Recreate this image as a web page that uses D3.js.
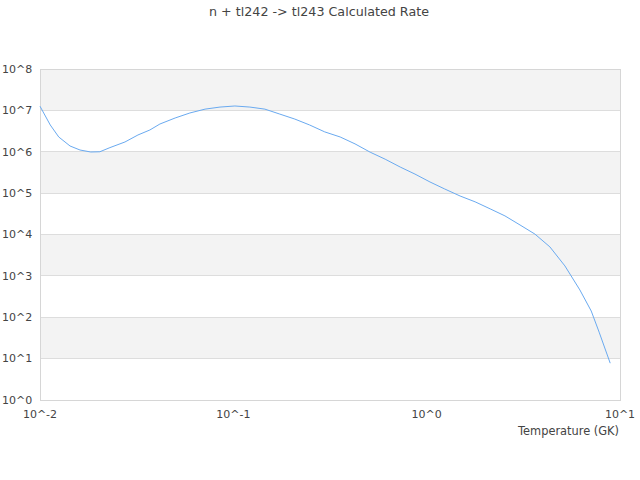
<!DOCTYPE html>
<html>
<head>
<meta charset="utf-8">
<script src="https://cdn.jsdelivr.net/npm/d3@7"></script>
<style>
  body { margin: 0; background: #fff; }
  text { font-family: "DejaVu Sans", sans-serif; fill: #444; }
</style>
</head>
<body>
<svg width="640" height="480"></svg>
<script>
// temperature (GK) and rate
const temps = [0.01, 0.0113, 0.0125, 0.0143, 0.0161, 0.0183, 0.0204, 0.023, 0.0275, 0.0321,
  0.037, 0.0417, 0.05, 0.0596, 0.0714, 0.0853, 0.1019, 0.1218, 0.1456, 0.174,
  0.208, 0.248, 0.297, 0.357, 0.426, 0.51, 0.61, 0.73, 0.87, 1.04,
  1.24, 1.49, 1.78, 2.13, 2.54, 3.04, 3.63, 4.34, 5.19, 6.2,
  7.1, 7.8, 8.9];
const logRates = [7.1, 6.647, 6.357, 6.139, 6.042, 5.994, 6.0, 6.1, 6.236, 6.405,
  6.526, 6.67, 6.816, 6.937, 7.03, 7.08, 7.106, 7.08, 7.03, 6.91,
  6.79, 6.647, 6.48, 6.357, 6.19, 5.99, 5.82, 5.63, 5.46, 5.27,
  5.1, 4.93, 4.79, 4.62, 4.45, 4.23, 4.01, 3.70, 3.24, 2.66,
  2.15, 1.64, 0.89];
const rates = logRates.map(v => Math.pow(10, v));

const xTicks = [0.01, 0.1, 1, 10];
const xTickLabels = ["10^-2", "10^-1", "10^0", "10^1"];
const yTicks = [1, 10, 100, 1e3, 1e4, 1e5, 1e6, 1e7, 1e8];
const yTickLabels = ["10^0", "10^1", "10^2", "10^3", "10^4", "10^5", "10^6", "10^7", "10^8"];

let svg = d3.select("svg");
const plotL = 40, plotR = 620, plotT = 69, plotB = 400;

const x = d3.scaleLog().domain([0.01, 10]).range([plotL, plotR]);
const y = d3.scaleLog().domain([1, 1e8]).range([plotB, plotT]);

// alternating bands
const bands = yTicks.slice(0, -1).map((v, i) => [v, yTicks[i + 1]]);
svg.append("g").selectAll("rect")
  .data(bands)
  .join("rect")
  .attr("x", plotL)
  .attr("width", plotR - plotL)
  .attr("y", d => y(d[1]))
  .attr("height", d => y(d[0]) - y(d[1]))
  .attr("fill", (d, i) => i % 2 === 1 ? "#f3f3f3" : "#fff");

// grid lines
svg.append("g").selectAll("line")
  .data(yTicks)
  .join("line")
  .attr("x1", plotL).attr("x2", plotR)
  .attr("y1", d => y(d)).attr("y2", d => y(d))
  .attr("stroke", "#dddddd")
  .attr("shape-rendering", "crispEdges");

// frame
svg.append("rect")
  .attr("x", plotL).attr("y", plotT)
  .attr("width", plotR - plotL).attr("height", plotB - plotT)
  .attr("fill", "none")
  .attr("stroke", "#d6d6d6")
  .attr("shape-rendering", "crispEdges");

// y tick labels
svg.append("g").selectAll("text")
  .data(yTicks)
  .join("text")
  .attr("x", 2)
  .attr("y", d => y(d))
  .attr("dy", "0.35em")
  .attr("font-size", 11)
  .text((d, i) => yTickLabels[i]);

// x tick labels
svg.append("g").selectAll("text")
  .data(xTicks)
  .join("text")
  .attr("x", d => x(d))
  .attr("y", 418)
  .attr("text-anchor", "middle")
  .attr("font-size", 11)
  .text((d, i) => xTickLabels[i]);

// curve
const line = d3.line()
  .x((d, i) => x(temps[i]))
  .y(d => y(d));
svg.append("path")
  .datum(rates)
  .attr("d", line)
  .attr("fill", "none")
  .attr("stroke", "#6aaaf0")
  .attr("stroke-width", 1);

// title & axis label
svg.append("text")
  .attr("x", 319).attr("y", 16)
  .attr("text-anchor", "middle")
  .attr("font-size", 12.7)
  .text("n + tl242 -> tl243 Calculated Rate");

svg.append("text")
  .attr("x", 619).attr("y", 435)
  .attr("text-anchor", "end")
  .attr("font-size", 11.4)
  .text("Temperature (GK)");
</script>
</body>
</html>
